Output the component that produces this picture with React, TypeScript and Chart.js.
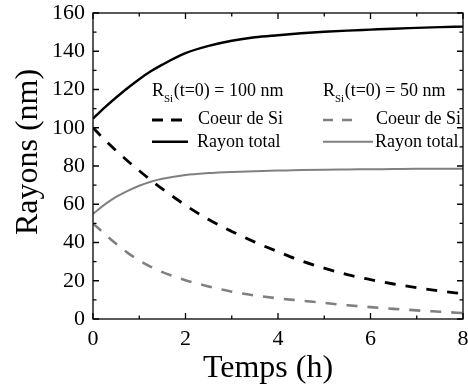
import React, { useEffect, useRef } from 'react';
import { Chart, registerables } from 'chart.js';

Chart.register(...registerables);

// ---- data ----
const timeH = [0, 0.25, 0.5, 0.75, 1, 1.25, 1.5, 2, 2.5, 3, 3.5, 4, 4.5, 5, 5.5, 6, 6.5, 7, 7.5, 8];
const core100 = [100, 93.8, 88, 82.6, 77.5, 72.6, 68, 59.5, 52, 45.8, 40.2, 35.2, 30.4, 26.6, 23.2, 20.6, 18.3, 16.4, 14.7, 13.2];
const total100 = [104.8, 110.5, 115.8, 120.8, 125.4, 129.5, 133, 139, 142.8, 145.5, 147.3, 148.4, 149.4, 150.2, 150.8, 151.3, 151.8, 152.2, 152.6, 152.9];
const core50 = [50, 44.5, 39.3, 34.6, 30.6, 27.3, 24.5, 20.3, 17, 14.3, 12.3, 10.8, 9.6, 8.4, 7.2, 6.2, 5.3, 4.5, 3.8, 3.1];
const total50 = [55, 59.8, 63.8, 67, 69.7, 71.8, 73.3, 75.3, 76.3, 76.9, 77.3, 77.6, 77.9, 78.1, 78.2, 78.3, 78.4, 78.5, 78.5, 78.6];

const xMin = 0, xMax = 8, xStep = 2, xMinorStep = 1;
const yMin = 0, yMax = 160, yStep = 20, yMinorStep = 10;

const xTitle = 'Temps (h)';
const yTitle = 'Rayons (nm)';
const legendHeaderMain = 'R';
const legendHeaderSub = 'Si';
const legendHeaders = ['(t=0) = 100 nm', '(t=0) = 50 nm'];
const legendCore = 'Coeur de Si';
const legendTotal = 'Rayon total';

const FONT = '"Liberation Serif", "Times New Roman", serif';
const BLACK = '#000000';
const GRAY = '#808080';

const toPts = (ys: number[]) => timeH.map((t, i) => ({ x: t, y: ys[i] }));

const decorPlugin = {
  id: 'decor',
  afterDraw(chart: any) {
    const { ctx, chartArea: a, scales } = chart;
    const xs = scales.x;
    const ys = scales.y;
    ctx.save();
    // frame
    ctx.strokeStyle = BLACK;
    ctx.lineWidth = 1.3;
    ctx.setLineDash([]);
    ctx.strokeRect(a.left, a.top, a.right - a.left, a.bottom - a.top);
    // inward ticks on four sides
    ctx.beginPath();
    for (let v = xMin; v <= xMax + 1e-9; v += xMinorStep) {
      const p = xs.getPixelForValue(v);
      const len = Math.abs(v % xStep) < 1e-9 ? 6 : 3.5;
      ctx.moveTo(p, a.bottom);
      ctx.lineTo(p, a.bottom - len);
      ctx.moveTo(p, a.top);
      ctx.lineTo(p, a.top + len);
    }
    for (let v = yMin; v <= yMax + 1e-9; v += yMinorStep) {
      const p = ys.getPixelForValue(v);
      const len = Math.abs(v % yStep) < 1e-9 ? 6 : 3.5;
      ctx.moveTo(a.left, p);
      ctx.lineTo(a.left + len, p);
      ctx.moveTo(a.right, p);
      ctx.lineTo(a.right - len, p);
    }
    ctx.stroke();

    // axis titles
    ctx.fillStyle = BLACK;
    ctx.font = `32px ${FONT}`;
    ctx.textAlign = 'center';
    ctx.textBaseline = 'alphabetic';
    ctx.fillText(xTitle, 268, 377);
    ctx.save();
    ctx.translate(37, 152);
    ctx.rotate(-Math.PI / 2);
    ctx.fillText(yTitle, 0, 0);
    ctx.restore();

    // legend
    const cols = [
      { x: 152, dashEnd: 184, solidEnd: 188, coreX: 198, totalX: 197, color: BLACK, dash: [11, 8], dw: 3, sw: 2.5 },
      { x: 323, dashEnd: 352, solidEnd: 373, coreX: 376, totalX: 375, color: GRAY, dash: [10, 9], dw: 2.4, sw: 2 },
    ];
    cols.forEach((c, i) => {
      ctx.textAlign = 'left';
      ctx.textBaseline = 'alphabetic';
      ctx.fillStyle = BLACK;
      ctx.font = `18px ${FONT}`;
      ctx.fillText(legendHeaderMain, c.x, 96);
      const w1 = ctx.measureText(legendHeaderMain).width;
      ctx.font = `11px ${FONT}`;
      ctx.fillText(legendHeaderSub, c.x + w1, 102);
      const w2 = ctx.measureText(legendHeaderSub).width;
      ctx.font = `18px ${FONT}`;
      ctx.fillText(legendHeaders[i], c.x + w1 + w2 + 0.5, 96);
      ctx.fillText(legendCore, c.coreX, 124);
      ctx.fillText(legendTotal, c.totalX, 147);

      ctx.strokeStyle = c.color;
      ctx.lineWidth = c.dw;
      ctx.setLineDash(c.dash);
      ctx.beginPath();
      ctx.moveTo(c.x, 120);
      ctx.lineTo(c.dashEnd, 120);
      ctx.stroke();
      ctx.setLineDash([]);
      ctx.lineWidth = c.sw;
      ctx.beginPath();
      ctx.moveTo(c.x, 141.7);
      ctx.lineTo(c.solidEnd, 141.7);
      ctx.stroke();
    });
    ctx.restore();
  },
};

export default function App() {
  const canvasRef = useRef<HTMLCanvasElement | null>(null);

  useEffect(() => {
    const canvas = canvasRef.current;
    if (!canvas) return;
    const common = { pointRadius: 0, fill: false, cubicInterpolationMode: 'monotone' as const };
    const chart = new Chart(canvas, {
      type: 'line',
      data: {
        datasets: [
          { label: 'Coeur de Si 100', data: toPts(core100), borderColor: BLACK, borderWidth: 2.8, borderDash: [11, 10], ...common },
          { label: 'Rayon total 100', data: toPts(total100), borderColor: BLACK, borderWidth: 2.4, ...common },
          { label: 'Coeur de Si 50', data: toPts(core50), borderColor: GRAY, borderWidth: 2.6, borderDash: [11, 10], ...common },
          { label: 'Rayon total 50', data: toPts(total50), borderColor: GRAY, borderWidth: 2, ...common },
        ],
      },
      options: {
        animation: false,
        responsive: false,
        devicePixelRatio: 1,
        layout: { padding: { left: 8, top: 13, right: 5, bottom: 0 } },
        plugins: { legend: { display: false }, tooltip: { enabled: false } },
        scales: {
          x: {
            type: 'linear',
            min: xMin,
            max: xMax,
            ticks: { stepSize: xStep, padding: 7, color: BLACK, font: { family: FONT, size: 22 } },
            grid: { display: false, drawTicks: false },
            border: { display: false },
            afterFit: (s: any) => { s.height = 69; s.paddingLeft = 0; s.paddingRight = 0; },
          },
          y: {
            type: 'linear',
            min: yMin,
            max: yMax,
            ticks: { stepSize: yStep, padding: 8, color: BLACK, font: { family: FONT, size: 22 } },
            grid: { display: false, drawTicks: false },
            border: { display: false },
            afterFit: (s: any) => { s.width = 85; s.paddingTop = 0; s.paddingBottom = 0; },
          },
        },
      },
      plugins: [decorPlugin],
    });
    return () => chart.destroy();
  }, []);

  return (
    <div style={{ position: 'absolute', left: 0, top: 0, width: 468, height: 388, background: '#fff' }}>
      <canvas ref={canvasRef} width={468} height={388} style={{ width: 468, height: 388, display: 'block' }} />
    </div>
  );
}
